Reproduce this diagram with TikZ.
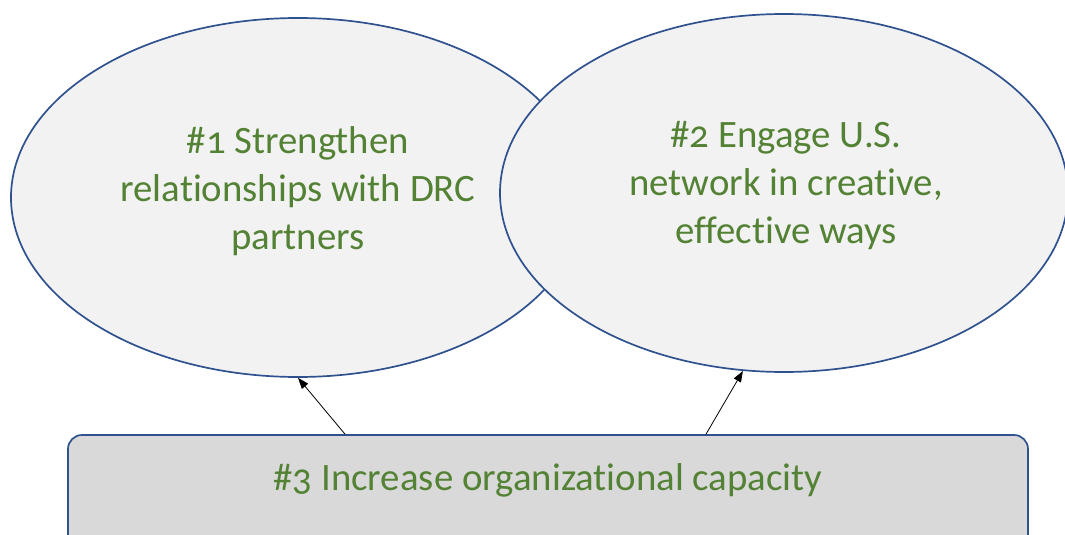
\documentclass[tikz,border=0pt]{standalone}
\usepackage{fontspec}
\setmainfont[Numbers=OldStyle,Ligatures=NoCommon]{Carlito}
\usetikzlibrary{shapes.geometric,arrows.meta}
\definecolor{edgeblue}{HTML}{2F528F}
\definecolor{txtgreen}{HTML}{548235}
\definecolor{ellfill}{HTML}{F2F2F2}
\definecolor{boxfill}{HTML}{D9D9D9}
\tikzset{
  goal/.style={ellipse, draw=edgeblue, fill=ellfill, line width=1.7pt, inner sep=0pt},
  goaltext/.style={align=center, text=txtgreen, inner sep=0pt, font=\fontsize{38.8}{48}\selectfont},
  basebox/.style={draw=edgeblue, fill=boxfill, line width=1.7pt, rounded corners=14pt,
    inner sep=0pt, minimum width=960pt, minimum height=125pt},
  basetext/.style={text=txtgreen, font=\fontsize{38.8}{48}\selectfont, inner sep=0pt},
  arr/.style={-{Triangle[length=11pt,width=8pt]}, line width=0.8pt, black}
}
\begin{document}
\begin{tikzpicture}[x=1pt,y=1pt]
\useasboundingbox (0,0) rectangle (1065,-535);
\node[goal, minimum width=574pt, minimum height=359pt] (e1) at (298,-197.5) {};
\node[goaltext] (t1) at (298,-191) {\#1 Strengthen\\relationships with DRC\\partners};
\node[goal, minimum width=568pt, minimum height=358pt] (e2) at (784,-193) {};
\node[goaltext] (t2) at (786,-186) {\#2 Engage U.S.\\network in creative,\\effective ways};
\node[basebox] (r) at (548,-497.5) {};
\node[basetext] (rt) at (548,-480) {\#3 Increase organizational capacity};
\draw[arr] ([xshift=-203pt]r.north) -- (e1.south);
\draw[arr] ([xshift=158pt]r.north) -- (e2.257);
\end{tikzpicture}
\end{document}
